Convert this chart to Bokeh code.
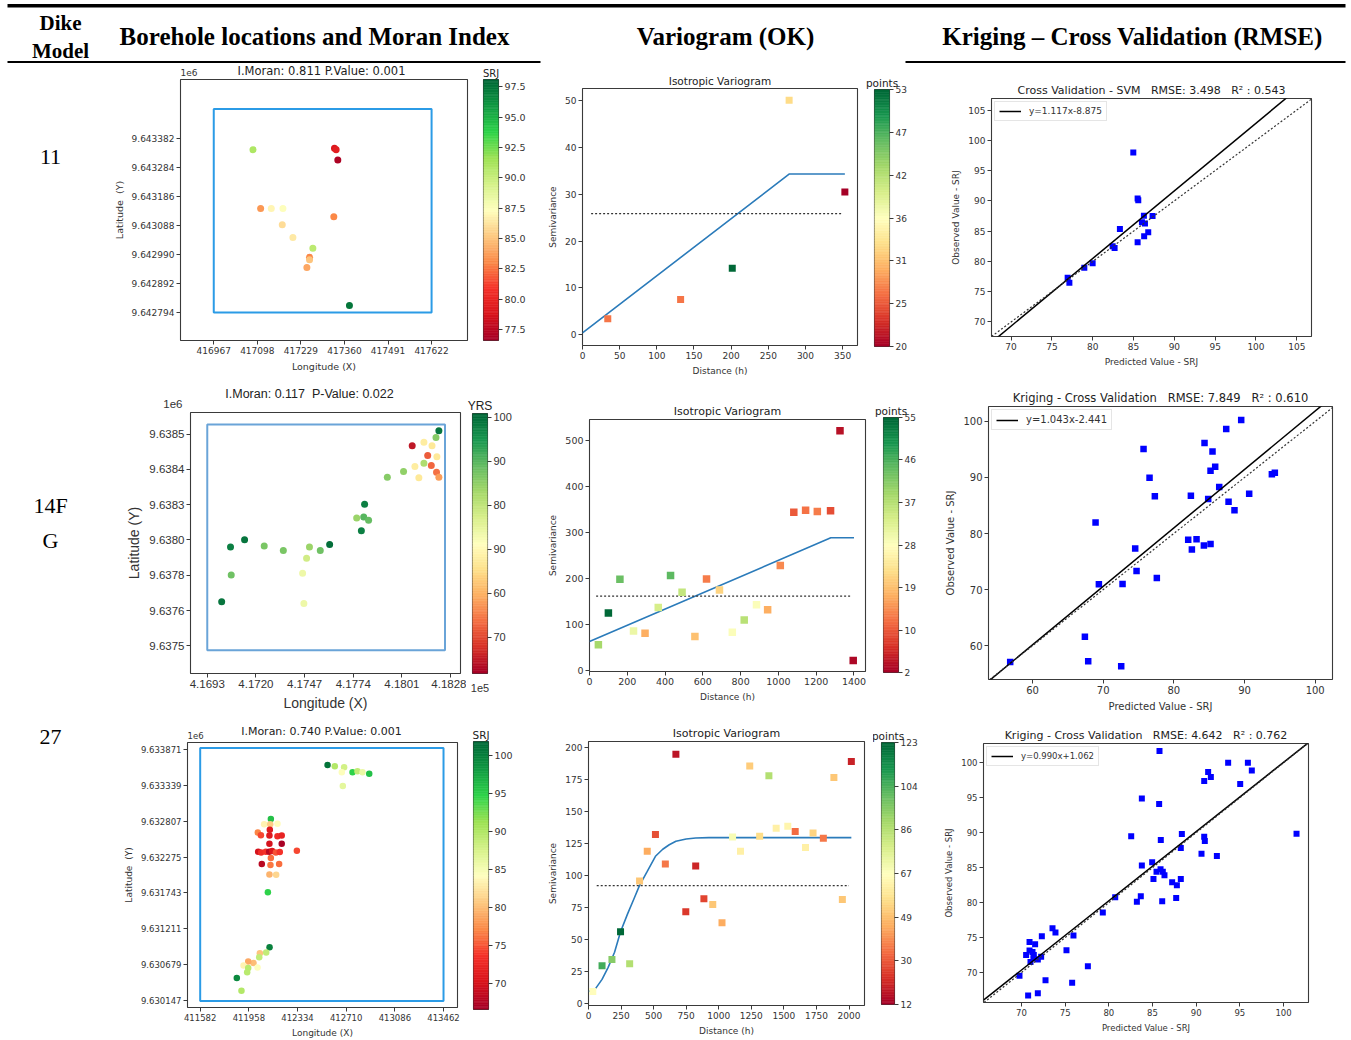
import numpy as np
from bokeh.plotting import figure
from bokeh.models import (Range1d, FixedTicker, ColumnDataSource, LinearColorMapper,
                          Slope, Legend, LegendItem, LinearAxis)
from bokeh.layouts import row, column
from bokeh.embed import file_html
from bokeh.resources import INLINE
from bokeh.core.properties import value
from bokeh.palettes import RdYlGn11

# ============================ DATA ============================
header_dike = ["Dike", "Model"]
header_cols = ["Borehole locations and Moran Index", "Variogram (OK)",
               "Kriging \u2013 Cross Validation (RMSE)"]
row_names = [["11"], ["14F", "G"], ["27"]]

# ---------- Dike 11 ----------
m1_title = "I.Moran: 0.811 P.Value: 0.001"
m1_cbar_title = "SRJ"
m1_x = [417085, 417330, 417335, 417340, 417108, 417140, 417175, 417328, 417173,
        417205, 417265, 417255, 417255, 417247, 417375]
m1_y = [9643344, 9643349, 9643344, 9643309, 9643145, 9643145, 9643145, 9643117,
        9643090, 9643047, 9643011, 9642980, 9642972, 9642946, 9642817]
m1_v = [91.0, 79.0, 79.5, 77.0, 83.5, 87.0, 87.5, 83.0, 86.0, 86.5, 90.5, 83.0,
        85.0, 84.0, 97.5]
m1_xrange = [416867, 417730]
m1_yrange = [9642699, 9643581]
m1_xticks = [416967, 417098, 417229, 417360, 417491, 417622]
m1_xlabels = ["416967", "417098", "417229", "417360", "417491", "417622"]
m1_yticks = [9642794, 9642892, 9642990, 9643088, 9643186, 9643284, 9643382]
m1_ylabels = ["9.642794", "9.642892", "9.642990", "9.643088", "9.643186",
              "9.643284", "9.643382"]
m1_box = [416967, 417622, 9642794, 9643481]   # left, right, bottom, top
m1_crange = [76.6, 98.1]
m1_cticks = [77.5, 80.0, 82.5, 85.0, 87.5, 90.0, 92.5, 95.0, 97.5]
m1_clabels = ["77.5", "80.0", "82.5", "85.0", "87.5", "90.0", "92.5", "95.0", "97.5"]

v1_lag = [34, 132, 201.5, 278, 353]
v1_gamma = [3.4, 7.5, 14.2, 50.1, 30.5]
v1_n = [27, 27, 53, 33, 20]
v1_model_x = [0, 278.4, 353]
v1_model_y = [0.4, 34.35, 34.35]
v1_var_x = [11.6, 350]
v1_var = 25.85
v1_xrange = [0, 370]
v1_yrange = [-2.3, 52.6]
v1_xticks = [0, 50, 100, 150, 200, 250, 300, 350]
v1_yticks = [0, 10, 20, 30, 40, 50]
v1_crange = [20, 53]
v1_cticks = [20, 25.5, 31, 36.5, 42, 47.5, 53]
v1_clabels = ["20", "25", "31", "36", "42", "47", "53"]

c1_title = "Cross Validation - SVM\u00a0\u00a0\u00a0RMSE: 3.498\u00a0\u00a0\u00a0R\u00b2 : 0.543"
c1_pred = [76.93, 77.14, 78.97, 79.99, 82.44, 82.68, 83.33, 84.97, 85.5, 85.58, 85.5,
           86.03, 86.27, 86.4, 86.3, 86.8, 87.33]
c1_obs = [77.3, 76.47, 78.94, 79.71, 82.5, 82.23, 85.36, 97.98, 90.4, 90.08, 83.17,
          86.46, 87.55, 86.24, 84.15, 84.81, 87.5]
c1_slope, c1_icpt = 1.117, -8.875
c1_eq = "y=1.117x-8.875"
c1_xrange = [67.6, 106.8]
c1_yrange = [67.6, 106.9]
c1_ticks = [70, 75, 80, 85, 90, 95, 100, 105]

# ---------- Dike 14FG ----------
m2_title = "I.Moran: 0.117\u00a0\u00a0P-Value: 0.022"
m2_cbar_title = "YRS"
m2_x = [417010, 417059, 417063, 417137, 417246, 417352, 417497, 417481, 417459, 417466,
        417557, 417609, 417759, 417785, 417798, 417803, 417825, 417929, 418019, 418082,
        418132, 418104, 418067, 418132, 418177, 418153, 418204, 418173, 418202, 418215,
        418199, 418215]
m2_y = [9638025, 9638180, 9638101, 9638201, 9638183, 9638170, 9638180, 9638148, 9638106,
        9638020, 9638170, 9638187, 9638262, 9638226, 9638265, 9638301, 9638256, 9638378,
        9638394, 9638408, 9638417, 9638376, 9638467, 9638477, 9638467, 9638439, 9638436,
        9638411, 9638392, 9638378, 9638490, 9638509]
m2_v = [99, 98, 88, 99, 87, 87, 84, 78, 74, 74, 88, 100, 84, 98, 90, 98, 89, 86, 85, 68,
        82, 67, 45, 68, 67, 52, 67, 53, 54, 58, 86, 99]
m2_xrange = [416837, 418335]
m2_yrange = [9637822, 9638561]
m2_xticks = [416930, 417200, 417470, 417740, 418010, 418280]
m2_xlabels = ["4.1693", "4.1720", "4.1747", "4.1774", "4.1801", "4.1828"]
m2_yticks = [9638500, 9638400, 9638300, 9638200, 9638100, 9638000, 9637900]
m2_ylabels = ["9.6385", "9.6384", "9.6383", "9.6380", "9.6378", "9.6376", "9.6375"]
m2_box = [416930, 418249, 9637888, 9638527]
m2_crange = [41.8, 100.8]
m2_cticks = [100, 90, 80, 70, 60, 50]
m2_clabels = ["100", "90", "80", "90", "60", "70"]

v2_lag = [47, 100, 161, 233, 294, 364, 429, 490, 558, 619.5, 688, 756, 819, 884, 943,
          1010, 1081.5, 1144, 1206, 1276, 1326, 1396]
v2_gamma = [55.8, 125, 198.6, 86, 81, 137, 206.5, 170, 74, 199, 175, 83, 110, 143, 132,
            228, 344, 348.5, 345.6, 347, 521, 21.7]
v2_n = [39, 55, 44, 31, 18, 34, 45, 36, 20, 14, 22, 29, 37, 29, 18, 15, 11, 13, 14, 10, 4, 3]
v2_model_x = [0, 1277.4, 1400]
v2_model_y = [63, 288.4, 288.4]
v2_var_x = [35, 1386]
v2_var = 161.6
v2_xrange = [0, 1461]
v2_yrange = [-2.2, 545.6]
v2_xticks = [0, 200, 400, 600, 800, 1000, 1200, 1400]
v2_yticks = [0, 100, 200, 300, 400, 500]
v2_crange = [2, 55]
v2_cticks = [2, 10.83, 19.67, 28.5, 37.33, 46.17, 55]
v2_clabels = ["2", "10", "19", "28", "37", "46", "55"]

c2_title = "Kriging - Cross Validation\u00a0\u00a0\u00a0RMSE: 7.849\u00a0\u00a0\u00a0R\u00b2 : 0.610"
c2_pred = [56.84, 67.41, 67.88, 72.55, 68.92, 69.39, 72.74, 74.53, 74.72, 75.71, 76.56,
           77.31, 77.59, 82.03, 82.41, 82.55, 83.21, 84.25, 85.19, 84.34, 85.47, 85.19,
           85.85, 84.86, 86.42, 87.74, 88.58, 87.41, 89.53, 90.66, 93.87, 94.29]
c2_obs = [57.1, 61.6, 57.22, 56.33, 81.95, 70.95, 71.0, 77.34, 73.31, 95.09, 89.94, 86.63,
          72.07, 78.88, 86.75, 77.16, 79.0, 77.87, 78.11, 96.15, 94.62, 91.18, 91.89, 86.15,
          88.28, 85.68, 84.14, 98.64, 100.24, 87.1, 90.59, 90.83]
c2_slope, c2_icpt = 1.043, -2.441
c2_eq = "y=1.043x-2.441"
c2_xrange = [53.77, 102.45]
c2_yrange = [53.96, 102.66]
c2_ticks = [60, 70, 80, 90, 100]

# ---------- Dike 27 ----------
m3_title = "I.Moran: 0.740 P.Value: 0.001"
m3_cbar_title = "SRJ"
m3_x = [412566, 412622, 412694, 412676, 412759, 412797, 412836, 412888, 412684,
        412128, 412076, 412123, 412179, 412027, 412051, 412120, 412117, 412179, 412212,
        412212, 412117, 412030, 412053, 412089, 412115, 412138, 412167, 412197, 412128,
        412329, 412058, 412125, 412192, 412117, 412169, 412105,
        412118, 412092, 412043, 412038, 411994, 411953, 411917, 411953, 412025, 411945,
        411865, 411901]
m3_y = [9633637, 9633617, 9633603, 9633529, 9633529, 9633544, 9633529, 9633505, 9633324,
        9632836, 9632758, 9632758, 9632768, 9632636, 9632597, 9632680, 9632592, 9632583,
        9632592, 9632470, 9632470, 9632353, 9632343, 9632353, 9632353, 9632363, 9632343,
        9632348, 9632260, 9632368, 9632172, 9632158, 9632172, 9632016, 9632011, 9631753,
        9630942, 9630864, 9630850, 9630791, 9630708, 9630728, 9630669, 9630635, 9630640,
        9630571, 9630484, 9630298]
m3_v = [101, 90, 88, 84.5, 95, 89, 86, 96, 86.5,
        96, 83.5, 81, 84, 77, 74.5, 71, 71, 73, 72, 67, 70, 70, 73, 73.5, 68, 70.5, 75,
        73.5, 76, 74.5, 68, 76.5, 76, 79.5, 81.5, 95,
        100, 89, 80.5, 89, 80, 79, 83.5, 89.5, 84.5, 89.5, 99.5, 90]
m3_xrange = [411484, 413570]
m3_yrange = [9630049, 9633969]
m3_xticks = [411582, 411958, 412334, 412710, 413086, 413462]
m3_xlabels = ["411582", "411958", "412334", "412710", "413086", "413462"]
m3_yticks = [9630147, 9630679, 9631211, 9631743, 9632275, 9632807, 9633339, 9633871]
m3_ylabels = ["9.630147", "9.630679", "9.631211", "9.631743", "9.632275", "9.632807",
              "9.633339", "9.633871"]
m3_box = [411582, 413462, 9630147, 9633886]
m3_crange = [66.6, 101.9]
m3_cticks = [70, 75, 80, 85, 90, 95, 100]
m3_clabels = ["70", "75", "80", "85", "90", "95", "100"]

v3_lag = [33, 104, 180, 246, 316, 392, 451, 514, 590, 671, 747, 823, 886, 954, 1025,
          1106, 1167, 1238, 1314, 1385, 1441, 1530, 1587, 1666, 1724, 1803, 1884, 1949, 2018]
v3_gamma = [9.4, 29.5, 34.4, 56, 31, 95.7, 119, 132, 109, 194.7, 71.7, 107.4, 81.9, 77.4,
            63, 130, 119, 185.6, 130.6, 178, 136.9, 138.4, 134.3, 121.8, 133.2, 129, 176.5,
            81.3, 189]
v3_n = [67, 106, 95, 123, 87, 51, 45, 29, 36, 17, 25, 21, 27, 51, 45, 70, 62, 52, 56, 87,
        62, 64, 34, 62, 54, 36, 51, 51, 20]
v3_model_x = [0, 50, 104, 150, 200, 246, 300, 350, 392, 450, 514, 570, 620, 671, 750, 823,
              924, 2018]
v3_model_y = [9.4, 11, 18.8, 28, 40, 56, 70, 82, 92.3, 103, 115, 120.5, 124, 126.8, 128.5,
              129.3, 129.6, 129.6]
v3_var_x = [63, 2000]
v3_var = 92.0
v3_xrange = [0, 2119]
v3_yrange = [-1.6, 204.7]
v3_xticks = [0, 250, 500, 750, 1000, 1250, 1500, 1750, 2000]
v3_yticks = [0, 25, 50, 75, 100, 125, 150, 175, 200]
v3_crange = [12, 123]
v3_cticks = [12, 30.5, 49, 67.5, 86, 104.5, 123]
v3_clabels = ["12", "30", "49", "67", "86", "104", "123"]

c3_title = "Kriging - Cross Validation\u00a0\u00a0\u00a0RMSE: 4.642\u00a0\u00a0\u00a0R\u00b2 : 0.762"
c3_pred = [69.77, 70.76, 71.87, 70.53, 70.92, 70.92, 71.26, 71.41, 71.56, 71.03, 71.37,
           71.87, 72.25, 72.33, 72.75, 73.55, 73.89, 75.15, 75.8, 75.95, 77.6, 79.31, 80.73,
           82.56, 83.21, 83.66, 83.78, 83.78, 84.96, 85.11, 85.46, 85.8, 85.76, 85.95, 85.92,
           86.18, 86.37, 86.11, 87.25, 87.79, 87.71, 88.24, 88.24, 88.36, 90.61, 90.92,
           90.99, 90.92, 91.37, 91.68, 92.37, 93.66, 95.04, 95.92, 96.37, 101.49]
c3_obs = [69.52, 66.71, 67.05, 72.52, 74.38, 73.14, 72.95, 72.52, 74.05, 71.52, 72.05,
          71.86, 72.24, 75.19, 68.9, 76.33, 75.71, 73.19, 68.52, 75.29, 70.9, 78.57, 80.76,
          89.48, 80.14, 80.9, 94.9, 85.29, 85.76, 83.38, 84.43, 101.67, 94.1, 88.95, 84.76,
          84.43, 83.9, 80.19, 82.9, 82.48, 80.67, 83.38, 87.81, 89.81, 87.0, 89.43, 88.81,
          97.38, 98.67, 97.95, 86.67, 100.0, 96.95, 100.0, 98.9, 89.86]
c3_slope, c3_icpt = 0.990, 1.062
c3_eq = "y=0.990x+1.062"
c3_xrange = [65.65, 102.86]
c3_yrange = [65.71, 102.76]
c3_ticks = [70, 75, 80, 85, 90, 95, 100]

# ============================ STYLE ============================
MPL = "DejaVu Sans"
ARIAL = "Liberation Sans"
SERIF = "Liberation Serif"
TXT = "#333333"


def build_palette(colors, n=256):
    pos = np.linspace(0, 1, len(colors))
    rgb = np.array([[int(c[i:i + 2], 16) for i in (1, 3, 5)] for c in colors], float)
    t = np.linspace(0, 1, n)
    return ["#%02x%02x%02x" % tuple(int(round(np.interp(tt, pos, rgb[:, k]))) for k in range(3))
            for tt in t]


rdylgn = list(RdYlGn11)
if rdylgn[0].lower() == "#006837":
    rdylgn = rdylgn[::-1]
PAL_RDYLGN = build_palette(rdylgn)
PAL_BRIGHT = build_palette(["#a50026", "#d8141c", "#f5322a", "#fb8a48", "#fdc981",
                            "#ffffbf", "#d6f28a", "#9ee254", "#2fd44a", "#119a43", "#006837"])


def new_fig(**kw):
    p = figure(toolbar_location=None, output_backend="svg", **kw)
    p.frame_align = False
    return p


def style_axes(p, font, fs_tick, fs_label):
    p.grid.visible = False
    p.outline_line_color = "#3a3a3a"
    p.outline_line_width = 1.1
    for ax in p.axis:
        ax.axis_line_color = None
        ax.major_tick_in = 0
        ax.major_tick_out = 4
        ax.major_tick_line_color = "#3a3a3a"
        ax.minor_tick_line_color = None
        ax.major_label_text_font = font
        ax.major_label_text_font_size = fs_tick
        ax.major_label_text_color = TXT
        ax.axis_label_text_font = font
        ax.axis_label_text_font_size = fs_label
        ax.axis_label_text_font_style = "normal"
        ax.axis_label_text_color = TXT
        ax.major_label_standoff = 2
        ax.axis_label_standoff = 4


def style_title(p, font, fs, standoff=2):
    p.title.text_font = font
    p.title.text_font_size = fs
    p.title.text_font_style = "normal"
    p.title.text_color = "#222222"
    p.title.align = "center"
    p.title.standoff = standoff


def blank_fig(W, H):
    p = new_fig(width=W, height=H, x_range=Range1d(0, W), y_range=Range1d(H, 0),
                x_axis_location=None, y_axis_location=None, min_border=0)
    p.outline_line_color = None
    p.grid.visible = False
    return p


def map_panel(W, H, strip, top, bl, br, bb, title, tpos, e6pos, xs, ys, vs, xr, yr, xt, xl,
              yt, yl, box, mapper, font, fs_title, fs_tick, fs_label, size):
    # strip above the map holding its title and the axis offset text
    s = blank_fig(W, strip)
    s.text(x=[tpos[0]], y=[tpos[1]], text=[title], text_align="center", text_baseline="middle",
           text_font=value(font), text_font_size=fs_title, text_color="#222222")
    s.text(x=[e6pos[0]], y=[e6pos[1]], text=["1e6"], text_align=e6pos[2],
           text_baseline="middle", text_font=value(font), text_font_size=fs_tick,
           text_color=TXT)
    p = new_fig(width=W, height=H - strip, x_range=Range1d(*xr), y_range=Range1d(*yr),
                min_border_left=bl, min_border_right=br, min_border_top=top,
                min_border_bottom=bb)
    style_axes(p, font, fs_tick, fs_label)
    p.xaxis.axis_label = "Longitude (X)"
    p.yaxis.axis_label = "Latitude\u00a0\u00a0(Y)" if font == MPL else "Latitude (Y)"
    p.xaxis.ticker = FixedTicker(ticks=xt)
    p.yaxis.ticker = FixedTicker(ticks=yt)
    p.xaxis.major_label_overrides = {t: s_ for t, s_ in zip(xt, xl)}
    p.yaxis.major_label_overrides = {t: s_ for t, s_ in zip(yt, yl)}
    p.quad(left=[box[0]], right=[box[1]], bottom=[box[2]], top=[box[3]], fill_color=None,
           line_color="#2b9be6" if font == MPL else "#6aa4d8", line_width=2)
    src = ColumnDataSource(dict(x=xs, y=ys, v=vs))
    p.scatter("x", "y", source=src, size=size, fill_color={"field": "v", "transform": mapper},
              line_color=None)
    return column(s, p)


def cbar_fig(W, H, bl, bt, bb, crange, ticks, labels, title, mapper, font, fs_tick, fs_title,
             extra=None):
    p = new_fig(width=W, height=H, x_range=Range1d(0, 1), y_range=Range1d(*crange), title=title,
                x_axis_location=None, y_axis_location="right", min_border_left=bl,
                min_border_right=W - bl - 15, min_border_top=bt, min_border_bottom=bb)
    style_axes(p, font, fs_tick, fs_tick)
    style_title(p, font, fs_title)
    edges = np.linspace(crange[0], crange[1], 161)
    src = ColumnDataSource(dict(b=edges[:-1], t=edges[1:], m=(edges[:-1] + edges[1:]) / 2))
    p.quad(left=0, right=1, bottom="b", top="t", source=src,
           fill_color={"field": "m", "transform": mapper},
           line_color={"field": "m", "transform": mapper}, line_width=0.6)
    p.yaxis.ticker = FixedTicker(ticks=ticks)
    p.yaxis.major_label_overrides = {t: s for t, s in zip(ticks, labels)}
    if extra is not None:
        ax = LinearAxis(ticker=FixedTicker(ticks=[]), axis_label=extra,
                        axis_line_color=None, major_tick_line_color=None,
                        minor_tick_line_color=None, major_tick_out=0, major_label_standoff=0,
                        axis_label_standoff=10, axis_label_text_font=font,
                        axis_label_text_font_size=fs_tick, axis_label_text_font_style="normal",
                        axis_label_text_color=TXT)
        p.add_layout(ax, "below")
    return p


def vario_fig(W, H, bl, br, bt, bb, lag, gam, n, mx, my, vx, vv, xr, yr, xt, yt, mapper,
              fs_title, fs_tick, fs_label, size):
    p = new_fig(width=W, height=H, x_range=Range1d(*xr), y_range=Range1d(*yr),
                title="Isotropic Variogram", min_border_left=bl, min_border_right=br,
                min_border_top=bt, min_border_bottom=bb)
    style_axes(p, MPL, fs_tick, fs_label)
    style_title(p, MPL, fs_title, 3)
    p.xaxis.axis_label = "Distance (h)"
    p.yaxis.axis_label = "Semivariance"
    p.xaxis.ticker = FixedTicker(ticks=xt)
    p.yaxis.ticker = FixedTicker(ticks=yt)
    p.line(mx, my, line_color="#2b7bba", line_width=1.6)
    p.line(vx, [vv, vv], line_color="#333333", line_width=1.3, line_dash="2 2")
    src = ColumnDataSource(dict(x=lag, y=gam, n=n))
    p.scatter("x", "y", source=src, marker="square", size=size,
              fill_color={"field": "n", "transform": mapper}, line_color=None)
    return p


def cv_fig(W, H, bl, br, bt, bb, title, pred, obs, slope, icpt, eq, xr, yr, ticks,
           fs_title, fs_tick, fs_label, fs_leg, size):
    p = new_fig(width=W, height=H, x_range=Range1d(*xr), y_range=Range1d(*yr), title=title,
                min_border_left=bl, min_border_right=br, min_border_top=bt, min_border_bottom=bb)
    style_axes(p, MPL, fs_tick, fs_label)
    style_title(p, MPL, fs_title, 4)
    p.xaxis.axis_label = "Predicted Value - SRJ"
    p.yaxis.axis_label = "Observed Value - SRJ"
    p.xaxis.ticker = FixedTicker(ticks=ticks)
    p.yaxis.ticker = FixedTicker(ticks=ticks)
    p.add_layout(Slope(gradient=1, y_intercept=0, line_color="#333333", line_width=1.2,
                       line_dash="2 2"))
    p.scatter(pred, obs, marker="square", size=size, fill_color="#0000ff", line_color=None)
    fx = [xr[0], xr[1]]
    r = p.line(fx, [slope * v + icpt for v in fx], line_color="black", line_width=1.5)
    leg = Legend(items=[LegendItem(label=eq, renderers=[r])], location="top_left")
    leg.label_text_font = MPL
    leg.label_text_font_size = fs_leg
    leg.label_text_color = TXT
    leg.glyph_width = 22
    leg.glyph_height = 10
    leg.label_height = 10
    leg.padding = 4
    leg.margin = 3
    leg.spacing = 0
    leg.label_standoff = 8
    leg.border_line_color = "#cccccc"
    p.add_layout(leg)
    return p


def text_fig(W, H, xs, ys, texts, size):
    p = blank_fig(W, H)
    p.text(x=xs, y=ys, text=texts, text_align="center", text_baseline="middle",
           text_font=value(SERIF), text_font_size=size, text_color="black")
    return p


# ============================ HEADER ============================
HH = 63
hdr = blank_fig(1351, HH)
hdr.quad(left=[7], right=[1345], top=[3.5], bottom=[7], fill_color="black", line_color=None)
hdr.quad(left=[7, 905], right=[540, 1345], top=[60.5, 60.5], bottom=[63, 63],
         fill_color="black", line_color=None)
hdr.text(x=[60, 60], y=[22, 50], text=header_dike, text_align="center", text_baseline="middle",
         text_font=value(SERIF), text_font_size="21px", text_font_style="bold", text_color="black")
hdr.text(x=[314, 725, 1132], y=[36, 36, 36], text=header_cols, text_align="center",
         text_baseline="middle", text_font=value(SERIF), text_font_size="25px",
         text_font_style="bold", text_color="black")

# ============================ ROW 1 ============================
H1 = 315
mp1 = LinearColorMapper(palette=PAL_BRIGHT, low=m1_crange[0], high=m1_crange[1])
vp1 = LinearColorMapper(palette=PAL_RDYLGN, low=v1_crange[0], high=v1_crange[1])
r1 = row(
    text_fig(110, H1, [50], [93], row_names[0], "22px"),
    map_panel(368, H1, 15, 1, 69, 11, 38, m1_title, (211, 7), (70, 8.5, "left"),
              m1_x, m1_y, m1_v, m1_xrange, m1_yrange, m1_xticks, m1_xlabels, m1_yticks,
              m1_ylabels, m1_box, mp1, MPL, "11.5px", "9px", "9.5px", 7),
    cbar_fig(67, H1, 5, 16, 38, m1_crange, m1_cticks, m1_clabels, m1_cbar_title, mp1, MPL,
             "9.5px", "10px"),
    vario_fig(321, H1, 36, 9, 25, 32, v1_lag, v1_gamma, v1_n, v1_model_x, v1_model_y,
              v1_var_x, v1_var, v1_xrange, v1_yrange, v1_xticks, v1_yticks, vp1,
              "10.5px", "9px", "9px", 7),
    cbar_fig(54, H1, 8, 26, 32, v1_crange, v1_cticks, v1_clabels, "points", vp1, MPL,
             "9px", "10.5px"),
    cv_fig(431, H1, 71, 40, 35, 42, c1_title, c1_pred, c1_obs, c1_slope, c1_icpt, c1_eq,
           c1_xrange, c1_yrange, c1_ticks, "11px", "9px", "9px", "9px", 6),
)

# ============================ ROW 2 ============================
H2 = 336
mp2 = LinearColorMapper(palette=PAL_RDYLGN, low=m2_crange[0], high=m2_crange[1])
vp2 = LinearColorMapper(palette=PAL_RDYLGN, low=v2_crange[0], high=v2_crange[1])
r2 = row(
    text_fig(110, H2, [50, 50], [127, 162], row_names[1], "22px"),
    map_panel(356, H2, 33, 1, 80, 6, 41, m2_title, (199, 15), (72, 25, "right"),
              m2_x, m2_y, m2_v, m2_xrange, m2_yrange, m2_xticks, m2_xlabels, m2_yticks,
              m2_ylabels, m2_box, mp2, ARIAL, "12.5px", "11.5px", "14px", 7),
    cbar_fig(79, H2, 6, 35, 41, m2_crange, m2_cticks, m2_clabels, m2_cbar_title, mp2, ARIAL,
             "11px", "12px", extra="1e5"),
    vario_fig(330, H2, 42, 10, 41, 43, v2_lag, v2_gamma, v2_n, v2_model_x, v2_model_y,
              v2_var_x, v2_var, v2_xrange, v2_yrange, v2_xticks, v2_yticks, vp2,
              "11px", "9.5px", "9px", 7.5),
    cbar_fig(45, H2, 8, 39, 42, v2_crange, v2_cticks, v2_clabels, "points", vp2, MPL,
             "9px", "10.5px"),
    cv_fig(431, H2, 68, 19, 28, 34, c2_title, c2_pred, c2_obs, c2_slope, c2_icpt, c2_eq,
           c2_xrange, c2_yrange, c2_ticks, "11.5px", "10px", "10px", "10px", 6.5),
)

# ============================ ROW 3 ============================
H3 = 326
mp3 = LinearColorMapper(palette=PAL_BRIGHT, low=m3_crange[0], high=m3_crange[1])
vp3 = LinearColorMapper(palette=PAL_RDYLGN, low=v3_crange[0], high=v3_crange[1])
r3 = row(
    text_fig(110, H3, [50], [22], row_names[2], "22px"),
    map_panel(356, H3, 27, 1, 77, 9, 31, m3_title, (211, 17), (77, 20.5, "left"),
              m3_x, m3_y, m3_v, m3_xrange, m3_yrange, m3_xticks, m3_xlabels, m3_yticks,
              m3_ylabels, m3_box, mp3, MPL, "11px", "8.5px", "9px", 6.5),
    cbar_fig(79, H3, 7, 27, 31, m3_crange, m3_cticks, m3_clabels, m3_cbar_title, mp3, MPL,
             "9.5px", "10.5px"),
    vario_fig(328, H3, 40, 9, 27, 35, v3_lag, v3_gamma, v3_n, v3_model_x, v3_model_y,
              v3_var_x, v3_var, v3_xrange, v3_yrange, v3_xticks, v3_yticks, vp3,
              "11px", "9px", "9px", 7),
    cbar_fig(47, H3, 8, 28, 36, v3_crange, v3_cticks, v3_clabels, "points", vp3, MPL,
             "9px", "10.5px"),
    cv_fig(431, H3, 63, 43, 29, 38, c3_title, c3_pred, c3_obs, c3_slope, c3_icpt, c3_eq,
           c3_xrange, c3_yrange, c3_ticks, "11px", "8.5px", "8.5px", "8.5px", 6),
)

layout = column(hdr, r1, r2, r3)
open("out.html", "w").write(file_html(layout, INLINE))
